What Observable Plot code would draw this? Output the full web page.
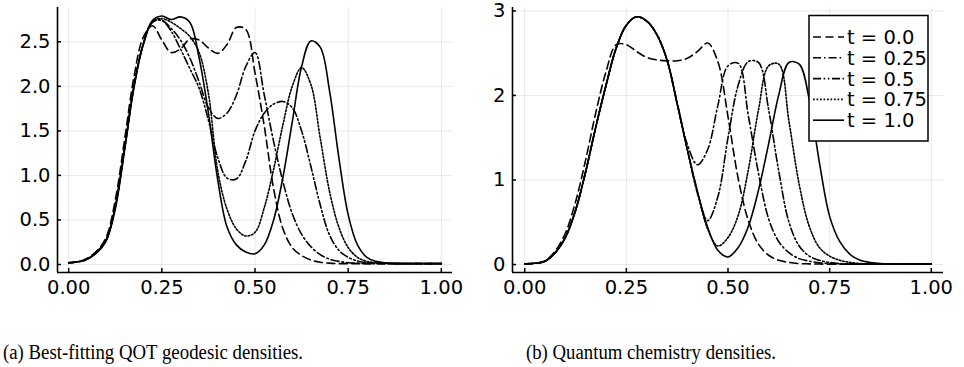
<!DOCTYPE html>
<html><head><meta charset="utf-8">
<script src="https://cdn.jsdelivr.net/npm/d3@7"></script>
<script src="https://cdn.jsdelivr.net/npm/@observablehq/plot@0.6"></script>
<style>
html,body{margin:0;padding:0;background:#fff;}
body{width:964px;height:367px;position:relative;overflow:hidden;font-family:"DejaVu Sans",sans-serif;}
#a{position:absolute;left:0;top:0}
#b{position:absolute;left:480px;top:0}
#overlay{position:absolute;left:0;top:0;pointer-events:none}
</style></head><body>
<div id="a"></div><div id="b"></div>
<script>
// shared x grid
const xs = [0,0.025,0.05,0.075,0.1,0.125,0.15,0.175,0.2,0.225,0.25,0.275,0.3,0.325,0.35,0.375,0.4,0.425,0.45,0.475,0.5,0.525,0.55,0.575,0.6,0.625,0.65,0.675,0.7,0.725,0.75,0.775,0.8,0.825,0.85,0.875,0.9,0.925,0.95,0.975,1];
const seriesLabels = ["t = 0.0","t = 0.25","t = 0.5","t = 0.75","t = 1.0"];
const xTicks = [0,0.25,0.5,0.75,1];
const leftYTicks = [0,0.5,1,1.5,2,2.5];
const rightYTicks = [0,1,2,3];
const captionA = "(a) Best-fitting QOT geodesic densities.";
const captionB = "(b) Quantum chemistry densities.";

// (a) Best-fitting QOT geodesic densities
const leftT00 = [0.02,0.03,0.07,0.15,0.30,0.72,1.40,2.10,2.55,2.68,2.52,2.38,2.42,2.53,2.52,2.43,2.37,2.47,2.66,2.64,2.15,1.55,0.85,0.40,0.19,0.10,0.05,0.025,0.015,0.01,0.01,0.01,0.01,0.01,0.01,0.01,0.01,0.01,0.01,0.01,0.01];
const leftT025 = [0.02,0.03,0.06,0.14,0.27,0.65,1.30,2.00,2.47,2.72,2.74,2.65,2.52,2.32,2.05,1.76,1.64,1.70,1.90,2.22,2.38,1.90,1.38,0.93,0.57,0.34,0.20,0.11,0.06,0.035,0.02,0.015,0.01,0.01,0.01,0.01,0.01,0.01,0.01,0.01,0.01];
const leftT05 = [0.02,0.03,0.06,0.14,0.27,0.65,1.30,2.00,2.47,2.72,2.74,2.62,2.42,2.20,1.98,1.62,1.20,0.97,0.96,1.16,1.50,1.70,1.80,1.83,1.76,1.50,1.10,0.67,0.33,0.16,0.08,0.04,0.02,0.015,0.01,0.01,0.01,0.01,0.01,0.01,0.01];
const leftT075 = [0.02,0.03,0.06,0.14,0.27,0.65,1.30,2.00,2.47,2.73,2.76,2.72,2.65,2.56,2.38,1.92,1.05,0.62,0.40,0.32,0.36,0.64,1.07,1.57,2.00,2.21,2.02,1.42,0.82,0.42,0.19,0.08,0.035,0.02,0.015,0.01,0.01,0.01,0.01,0.01,0.01];
const leftT10 = [0.02,0.03,0.06,0.13,0.26,0.62,1.28,1.98,2.47,2.74,2.79,2.75,2.78,2.72,2.32,1.70,0.95,0.42,0.22,0.14,0.12,0.22,0.50,0.98,1.60,2.22,2.51,2.44,1.95,1.20,0.56,0.22,0.08,0.035,0.018,0.012,0.01,0.01,0.01,0.01,0.01];

// (b) Quantum chemistry densities
const rightT00 = [0.01,0.015,0.045,0.16,0.37,0.74,1.24,1.80,2.28,2.60,2.60,2.52,2.45,2.42,2.41,2.41,2.44,2.52,2.62,2.40,1.75,1.02,0.52,0.24,0.11,0.05,0.025,0.012,0.008,0.006,0.005,0.005,0.005,0.005,0.005,0.005,0.005,0.005,0.005,0.005,0.005];
const rightT025 = [0.01,0.015,0.04,0.14,0.32,0.64,1.10,1.63,2.12,2.56,2.83,2.93,2.88,2.72,2.42,1.92,1.42,1.18,1.36,1.88,2.35,2.38,1.76,1.08,0.54,0.27,0.14,0.07,0.04,0.02,0.012,0.008,0.005,0.005,0.005,0.005,0.005,0.005,0.005,0.005,0.005];
const rightT05 = [0.01,0.015,0.04,0.14,0.32,0.64,1.10,1.63,2.12,2.56,2.83,2.93,2.88,2.72,2.42,1.90,1.36,0.84,0.52,0.80,1.50,2.12,2.40,2.39,1.83,1.10,0.50,0.22,0.10,0.05,0.025,0.012,0.008,0.005,0.005,0.005,0.005,0.005,0.005,0.005,0.005];
const rightT075 = [0.01,0.015,0.04,0.14,0.32,0.64,1.10,1.63,2.12,2.56,2.83,2.93,2.88,2.72,2.42,1.90,1.36,0.86,0.42,0.22,0.32,0.58,1.12,1.83,2.35,2.37,1.69,0.95,0.45,0.20,0.10,0.05,0.025,0.012,0.008,0.005,0.005,0.005,0.005,0.005,0.005];
const rightT10 = [0.01,0.015,0.04,0.14,0.32,0.64,1.10,1.63,2.12,2.56,2.83,2.93,2.88,2.72,2.42,1.90,1.36,0.86,0.44,0.17,0.09,0.20,0.45,0.88,1.43,2.01,2.39,2.37,1.95,1.20,0.57,0.27,0.12,0.05,0.025,0.012,0.008,0.005,0.005,0.005,0.005];

const dashes = ["8,4.5","8,3,1.6,3","8,2.6,1.6,2.6,1.6,2.6","1.7,1.8",null];
const LW = 1.6;

function toRows(seriesArrays) {
  const rows = [];
  seriesArrays.forEach((arr, k) => arr.forEach((v, i) => rows.push({x: xs[i], y: v, s: seriesLabels[k]})));
  return rows;
}

function panel(seriesArrays, yDomain, yTicks, yFormat, opts) {
  const rows = toRows(seriesArrays);
  const xDomain = [-0.03, 1.03];
  const fs = 19.5;
  return Plot.plot({
    width: opts.width, height: 300,
    marginLeft: opts.ml, marginRight: opts.mr, marginTop: 7, marginBottom: 28,
    style: {fontFamily: "DejaVu Sans", fontSize: fs + "px", color: "#000", background: "transparent", overflow: "visible"},
    x: {domain: xDomain},
    y: {domain: yDomain},
    marks: [
      Plot.gridX(xTicks, {stroke: "#000", strokeOpacity: 0.09, strokeWidth: 1}),
      Plot.gridY(yTicks, {stroke: "#000", strokeOpacity: 0.09, strokeWidth: 1}),
      ...seriesLabels.map((lab, k) => Plot.line(rows.filter(r => r.s === lab), {
        x: "x", y: "y", curve: "catmull-rom", stroke: "#000", strokeWidth: LW,
        strokeDasharray: dashes[k] || undefined
      })),
      // inward tick marks (shifted into the frame), no labels
      Plot.axisX(xTicks, {tickSize: 4, dy: -4, tickFormat: () => "", label: null, strokeWidth: 1.5}),
      Plot.axisY(yTicks, {tickSize: 4, dx: 4, tickFormat: () => "", label: null, strokeWidth: 1.5}),
      // tick labels
      Plot.axisX(xTicks, {tickSize: 0, tickPadding: 8, tickFormat: d3.format(".2f"), label: null, fontSize: fs, fontFamily: "DejaVu Sans", fill: "#000"}),
      Plot.axisY(yTicks, {tickSize: 0, tickPadding: 7, tickFormat: d3.format(yFormat), label: null, fontSize: fs, fontFamily: "DejaVu Sans", fill: "#000"}),
      // left and bottom spines
      Plot.ruleX([xDomain[0]], {stroke: "#000", strokeWidth: 1.6}),
      Plot.ruleY([yDomain[0]], {stroke: "#000", strokeWidth: 1.6})
    ]
  });
}

document.getElementById("a").append(
  panel([leftT00, leftT025, leftT05, leftT075, leftT10], [-0.09, 2.885], leftYTicks, ".1f", {width: 480, ml: 57, mr: 28})
);
document.getElementById("b").append(
  panel([rightT00, rightT025, rightT05, rightT075, rightT10], [-0.094, 3.04], rightYTicks, "d", {width: 484, ml: 32, mr: 21})
);

// overlay: legend box in panel (b) and the two captions
const ov = d3.select("body").append("svg").attr("id", "overlay").attr("width", 964).attr("height", 367);
ov.append("rect").attr("x", 809).attr("y", 15.5).attr("width", 119).attr("height", 125.5)
  .attr("fill", "#fff").attr("stroke", "#000").attr("stroke-width", 1.5);
seriesLabels.forEach((lab, k) => {
  const y = 37 + k * 20.8;
  ov.append("line").attr("x1", 813).attr("x2", 844).attr("y1", y).attr("y2", y)
    .attr("stroke", "#000").attr("stroke-width", LW).attr("stroke-dasharray", dashes[k]);
  ov.append("text").attr("x", 847).attr("y", y).attr("dy", "0.36em")
    .attr("font-family", "DejaVu Sans").attr("font-size", 19.5).attr("fill", "#000").text(lab);
});
ov.append("text").attr("x", 3).attr("y", 359).attr("font-family", "Liberation Serif").attr("font-size", 20.5)
  .attr("textLength", 300).attr("lengthAdjust", "spacingAndGlyphs").attr("fill", "#000").text(captionA);
ov.append("text").attr("x", 526).attr("y", 359).attr("font-family", "Liberation Serif").attr("font-size", 20.5)
  .attr("textLength", 250).attr("lengthAdjust", "spacingAndGlyphs").attr("fill", "#000").text(captionB);
</script>
</body></html>
